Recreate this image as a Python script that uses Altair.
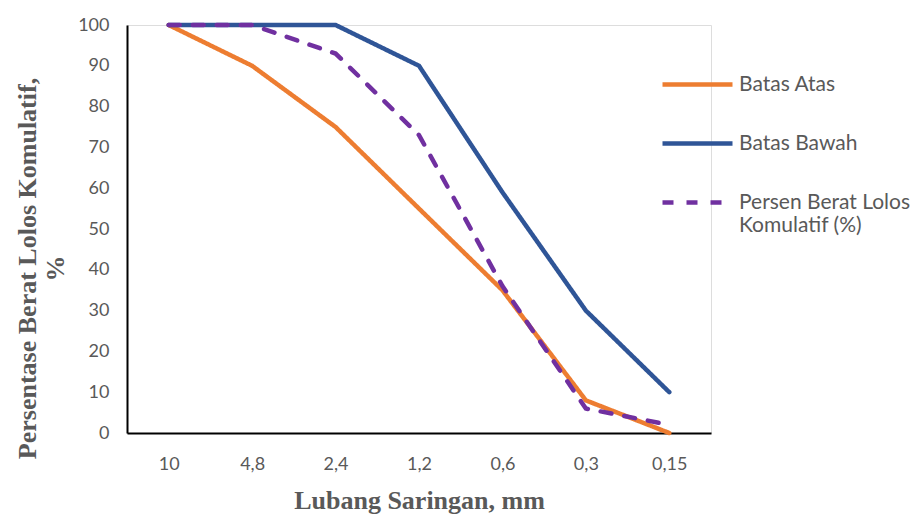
import altair as alt
import pandas as pd

# Sieve sizes (x categories)
saringan = ["10", "4,8", "2,4", "1,2", "0,6", "0,3", "0,15"]

# Series values (% passing)
batas_atas = [100, 90, 75, 55, 35, 8, 0]
batas_bawah = [100, 100, 100, 90, 59, 30, 10]
persen_lolos = [100, 100, 93, 73, 36, 6, 2]

series_names = ["Batas Atas", "Batas Bawah", "Persen Berat Lolos Komulatif (%)"]
series_values = [batas_atas, batas_bawah, persen_lolos]

rows = []
for name, vals in zip(series_names, series_values):
    for s, v in zip(saringan, vals):
        rows.append({"Saringan": s, "Nilai": v, "Seri": name})
df = pd.DataFrame(rows)

grey = "#595959"

chart = alt.Chart(df).mark_line(strokeWidth=4.5, strokeCap="round", strokeJoin="miter").encode(
    x=alt.X("Saringan:N", sort=saringan, scale=alt.Scale(paddingInner=0, paddingOuter=0.5),
            axis=alt.Axis(title="Lubang Saringan, mm", labelAngle=0, ticks=False,
                          domainColor="black", domainWidth=2,
                          labelFont="Lato", labelFontSize=18, labelColor=grey, labelPadding=22,
                          titleFont="Liberation Serif", titleFontSize=26, titleFontWeight="bold",
                          titleColor=grey, titlePadding=14)),
    y=alt.Y("Nilai:Q", scale=alt.Scale(domain=[0, 100], nice=False),
            axis=alt.Axis(title=["Persentase Berat Lolos Komulatif,", "%"], values=list(range(0, 101, 10)),
                          ticks=False, grid=False, domainColor="black", domainWidth=2,
                          labelFont="Lato", labelFontSize=18, labelColor=grey, labelPadding=18,
                          titleFont="Liberation Serif", titleFontSize=26, titleFontWeight="bold",
                          titleColor=grey, titleAngle=-90, titleAlign="center", titleBaseline="middle",
                          titleX=-100, titleY=243, titleLineHeight=28)),
    color=alt.Color("Seri:N", sort=series_names,
                    scale=alt.Scale(domain=series_names, range=["#ED7D31", "#2F5597", "#7030A0"]),
                    legend=alt.Legend(title=None, orient="none", legendX=533, legendY=22,
                                      symbolType="stroke", symbolSize=4900, symbolStrokeWidth=4.5,
                                      labelFont="Lato", labelFontSize=21, labelColor=grey,
                                      labelOffset=4, padding=0, rowPadding=11, labelLimit=300,
                                      labelExpr="datum.label == 'Persen Berat Lolos Komulatif (%)' ? ['Persen Berat Lolos', 'Komulatif (%)'] : datum.label")),
    strokeDash=alt.StrokeDash("Seri:N", sort=series_names,
                              scale=alt.Scale(domain=series_names, range=[[1, 0], [1, 0], [11, 13]]),
                              legend=alt.Legend(title=None)),
).properties(
    width=584, height=408,
    autosize=alt.AutoSizeParams(type="none"),
    padding={"left": 127, "top": 25, "right": 209, "bottom": 82},
).configure_view(stroke=None).configure_axis(grid=False).configure(background="white")

chart.save("out.html", embed_options={"renderer": "svg", "actions": False})
